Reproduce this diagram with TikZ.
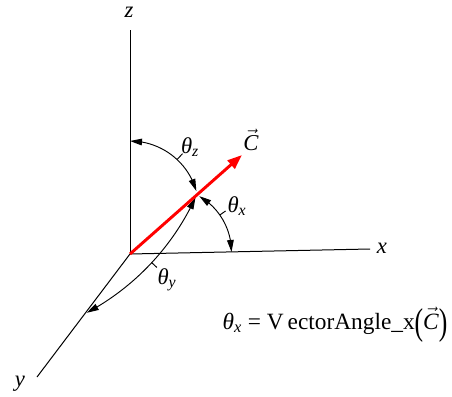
\documentclass[tikz,border=0pt]{standalone}
\usepackage{fontspec}
\usepackage{graphicx}
\setmainfont{Liberation Serif}
\usetikzlibrary{arrows.meta,bending}
\newcommand{\myvecC}{$\vec{\mbox{\itshape C}}$}
\begin{document}
\begin{tikzpicture}[x=0.75pt,y=0.75pt,
  axis/.style={line width=0.75pt},
  anglearc/.style={line width=0.7pt,{Triangle[length=9pt,width=5pt]}-{Triangle[length=9pt,width=5pt]}},
  tickline/.style={line width=0.7pt},
  lbl/.style={font=\fontsize{17}{19}\selectfont\itshape, inner sep=0pt},
  vecline/.style={red, line width=2.2pt, -{Triangle[length=11pt,width=8pt]}}]
\useasboundingbox (0,0) rectangle (452,396);
% axes
\coordinate (O) at (130,142);
\coordinate (Zend) at (130,366);
\coordinate (Xend) at (370,147);
\coordinate (Yend) at (37,19);
\coordinate (Ctip) at (242,241);
\draw[axis] (O) -- (Zend);
\draw[axis] (O) -- (Xend);
\draw[axis] (O) -- (Yend);
% arc centres
\coordinate (Cz) at (130,186);
\coordinate (Cx) at (167,144);
\coordinate (Cy) at (-31.4,303.5);
% angle arcs
\draw[anglearc] (Cz) ++(90:69) arc[start angle=90,end angle=16,radius=69];
\draw[anglearc] (Cx) ++(60:64.5) arc[start angle=60,end angle=0,radius=64.5];
\draw[anglearc] (Cy) ++(-24.8:250) arc[start angle=-24.8,end angle=-61.8,radius=250];
% ticks
\draw[tickline] (Cz) ++(47:69) -- ++(47:8);
\draw[tickline] (Cx) ++(35:64.5) -- ++(35:7);
\draw[tickline] (Cy) ++(-42.9:250) -- ++(-42.9:7);
% vector
\draw[vecline] (O) -- (Ctip);
% labels
\node[lbl] (lz) at (129,384) {z};
\node[lbl] (lx) at (382,148) {x};
\node[lbl] (ly) at (20,12) {y};
\node[lbl] (lC) at (251,256) {\myvecC};
\node[lbl] (tz) at (190,249) {θ\textsubscript{z}};
\node[lbl] (tx) at (237,190) {θ\textsubscript{x}};
\node[lbl] (ty) at (167,116) {θ\textsubscript{y}};
\node[font=\fontsize{17.5}{19}\selectfont, inner sep=0pt] (eq) at (335,71)
  {{\itshape θ}\textsubscript{\itshape x} = V\kern3pt ectorAngle\_x\raisebox{-0.25em}{\scalebox{1.1}[1.6]{(}}{\itshape\myvecC}\raisebox{-0.25em}{\scalebox{1.1}[1.6]{)}}};
\end{tikzpicture}
\end{document}
